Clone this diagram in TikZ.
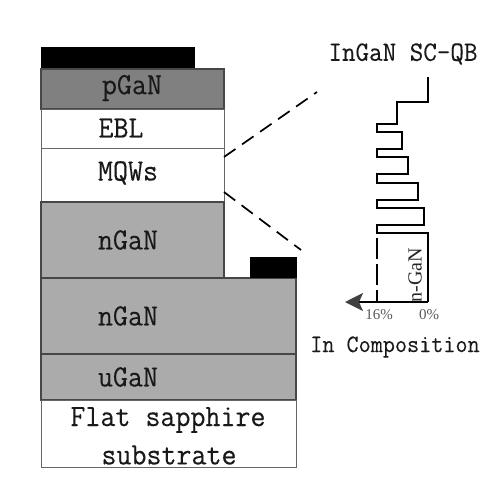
\documentclass[tikz,border=0pt]{standalone}
\usepackage{fontspec}
\setmainfont{Liberation Serif}
\setmonofont[FakeStretch=0.94, FakeBold=0.25]{Latin Modern Mono}
\usetikzlibrary{arrows.meta}

\tikzset{
  gray layer/.style={draw=black!72, line width=1.1pt, fill=black!33},
  dark layer/.style={draw=black!72, line width=1.1pt, fill=black!50},
  white layer/.style={draw=black!60, line width=1pt, fill=white},
  contact/.style={fill=black},
  layer label/.style={font=\ttfamily\fontsize{31}{31}\selectfont, text=black!90, inner sep=0pt},
  small label/.style={font=\fontsize{15}{15}\selectfont, text=black!65, inner sep=0pt},
  guide/.style={line width=1.7pt, dash pattern=on 14pt off 8pt, line cap=butt},
  profile/.style={line width=2pt, line join=miter}
}

\begin{document}
\begin{tikzpicture}[x=1pt, y=-1pt]

  %% layer stack
  \draw[contact] (41,47) rectangle (194,69);
  \draw[dark layer] (41,69) rectangle (224,109);
  \draw[white layer] (41,109) rectangle (224,148);
  \draw[white layer] (41,148) rectangle (224,202);
  \draw[gray layer] (41,202) rectangle (224,278);
  \draw[gray layer] (41,278) rectangle (296,354);
  \draw[gray layer] (41,354) rectangle (296,400);
  \draw[white layer] (41,400) rectangle (296,467);
  \draw[contact] (250,257) rectangle (296,277);

  %% layer labels
  \node[layer label] (pgan) at (132,88) {pGaN};
  \node[layer label] (ebl) at (121,128) {EBL};
  \node[layer label] (mqws) at (128,173) {MQWs};
  \node[layer label] (ngantop) at (128,240) {nGaN};
  \node[layer label] (nganlow) at (128,316) {nGaN};
  \node[layer label] (ugan) at (128,377) {uGaN};
  \node[layer label] (flat) at (168,420) {Flat sapphire};
  \node[layer label] (substrate) at (169,455) {substrate};

  %% zoom lines
  \coordinate (mqwup) at (224,157);
  \coordinate (mqwdown) at (224,192);
  \coordinate (zoomup) at (317,92);
  \coordinate (zoomdown) at (301,250);
  \draw[guide] (mqwup) -- (zoomup);
  \draw[guide] (mqwdown) -- (zoomdown);

  %% composition profile
  \draw[profile] (428,77) -- (428,102) -- (397,102) -- (397,124) -- (377,124)
    -- (377,132) -- (402,132) -- (402,149) -- (377,149)
    -- (377,157) -- (408,157) -- (408,174) -- (377,174)
    -- (377,183) -- (418,183) -- (418,200) -- (377,200)
    -- (377,208) -- (424,208) -- (424,225) -- (377,225)
    -- (377,233) -- (428,233) -- (428,302);
  \draw[line width=1.7pt, dash pattern=on 21pt off 5pt] (377,238) -- (377,302);

  \coordinate (axisstart) at (428,302);
  \coordinate (axisend) at (345,302);
  \draw[line width=1.8pt, -{Stealth[length=18pt, width=18pt, inset=4pt, color=black!75]}] (axisstart) -- (axisend);

  %% text
  \node[layer label, font=\ttfamily\fontsize{28}{28}\selectfont] (title) at (403,54) {InGaN SC-QB};
  \node[layer label, font=\ttfamily\fontsize{25}{25}\selectfont] (xlabel) at (395,347) {In Composition};
  \node[small label] (sixteen) at (379,315) {16\%};
  \node[small label] (zero) at (429,315) {0\%};
  \node[inner sep=0pt, rotate=90, font=\fontsize{20}{20}\selectfont, text=black!85] (ngan) at (415,275) {n-GaN};

  \pgfresetboundingbox
  \path[use as bounding box] (0,0) rectangle (500,485);
\end{tikzpicture}
\end{document}
